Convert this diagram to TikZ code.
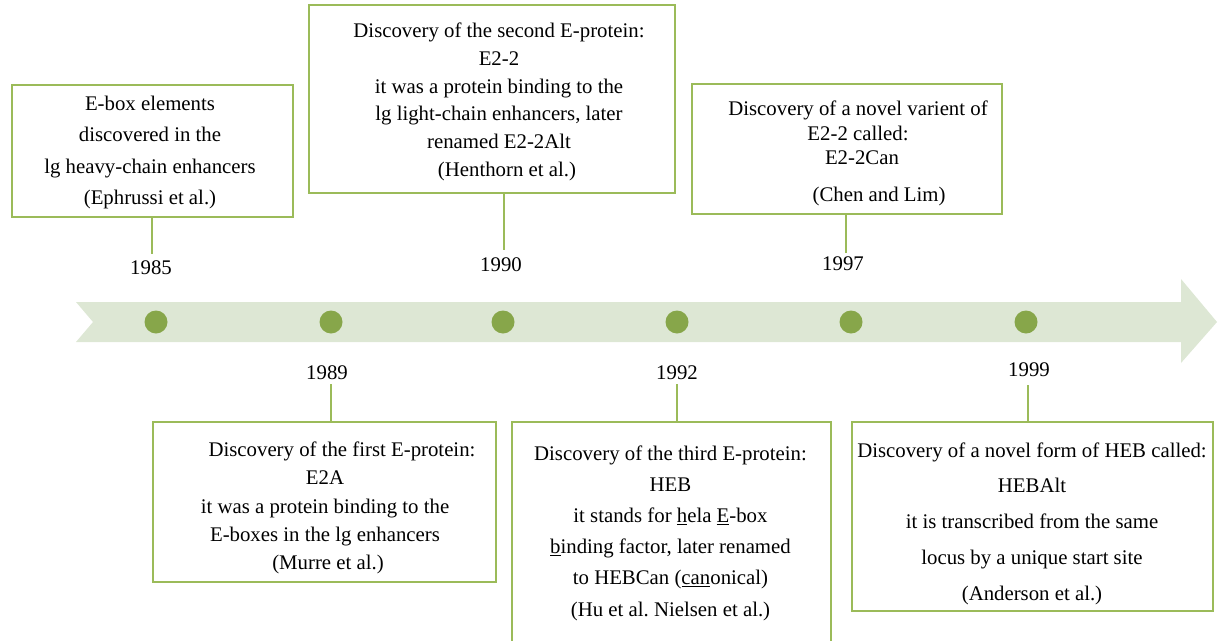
\documentclass[tikz,border=0pt]{standalone}
\usepackage{fontspec}
\setmainfont{Liberation Serif}
\frenchspacing
\definecolor{bandc}{HTML}{DDE7D4}
\definecolor{dotc}{HTML}{87A64A}
\definecolor{framec}{HTML}{9BBB59}
\begin{document}
\begin{tikzpicture}[x=1pt,y=-1pt,
  boxf/.style={draw=framec, line width=1.6pt, rectangle, inner sep=0pt},
  txt/.style={align=center, inner sep=0pt, text=black},
  yr/.style={inner sep=0pt, font=\fontsize{20.8}{24}\selectfont},
  dotn/.style={circle, fill=dotc, draw=none, minimum width=22pt, minimum height=23pt, inner sep=0pt},
  conn/.style={draw=framec, line width=1.6pt}]
\useasboundingbox (0,0) rectangle (1218,640);
% band arrow
\fill[bandc] (76,302) -- (1181,302) -- (1181,279) -- (1217,322) -- (1181,363) -- (1181,342) -- (76,342) -- (93,322) -- cycle;
% dots
\node[dotn] (d1) at (156,322) {};
\node[dotn] (d2) at (331,322) {};
\node[dotn] (d3) at (503,322) {};
\node[dotn] (d4) at (677,322) {};
\node[dotn] (d5) at (851,322) {};
\node[dotn] (d6) at (1026,322) {};
% boxes
\node[boxf, minimum width=281pt, minimum height=132pt] (b85) at (152.5,151) {};
\node[boxf, minimum width=366pt, minimum height=188pt] (b90) at (492,99) {};
\node[boxf, minimum width=310pt, minimum height=130pt] (b97) at (847,149) {};
\node[boxf, minimum width=343pt, minimum height=160pt] (b89) at (324.5,502) {};
\node[boxf, minimum width=319pt, minimum height=222pt] (b92) at (671.5,533) {};
\node[boxf, minimum width=361pt, minimum height=189pt] (b99) at (1032.5,516.5) {};
% texts
\node[txt, font=\fontsize{20.8}{31.5}\selectfont] (t85) at (150,152.5)
  {E-box elements\\discovered in the\\lg heavy-chain enhancers\\(Ephrussi et al.)};
\node[txt, font=\fontsize{20.8}{27.7}\selectfont] (t90) at (499,102)
  {Discovery of the second E-protein:\\E2-2\\it was a protein binding to the\\lg light-chain enhancers, later\\renamed E2-2Alt\\\hspace*{16pt}(Henthorn et al.)};
\node[txt, font=\fontsize{20.8}{24.5}\selectfont] (t97) at (858,153.5)
  {Discovery of a novel varient of\\E2-2 called:\\\hspace*{8pt}E2-2Can\\[12pt]\hspace*{42pt}(Chen and Lim)};
\node[txt, font=\fontsize{20.8}{28.2}\selectfont] (t89) at (325,508)
  {\hspace*{34pt}Discovery of the first E-protein:\\E2A\\it was a protein binding to the\\E-boxes in the lg enhancers\\\hspace*{6pt}(Murre et al.)};
\node[txt, font=\fontsize{20.8}{31.2}\selectfont] (t92) at (670.5,533)
  {Discovery of the third E-protein:\\HEB\\it stands for \underline{h}ela \underline{E}-box\\\underline{b}inding factor, later renamed\\to HEBCan (\underline{can}onical)\\(Hu et al. Nielsen et al.)};
\node[txt, font=\fontsize{20.8}{35.75}\selectfont] (t99) at (1032,523.5)
  {Discovery of a novel form of HEB called:\\HEBAlt\\it is transcribed from the same\\locus by a unique start site\\(Anderson et al.)};
% years
\node[yr] (y85) at (151,268) {1985};
\node[yr] (y90) at (501,265) {1990};
\node[yr] (y97) at (843,264) {1997};
\node[yr] (y89) at (327,373) {1989};
\node[yr] (y92) at (677,373) {1992};
\node[yr] (y99) at (1029,370) {1999};
% connector ends
\coordinate (c85) at (152,254);
\coordinate (c90) at (504,250);
\coordinate (c97) at (846,253);
\coordinate (c89) at (331,384);
\coordinate (c92) at (677,384);
\coordinate (c99) at (1028,385);
\draw[conn] (c85 |- b85.south) -- (c85);
\draw[conn] (c90 |- b90.south) -- (c90);
\draw[conn] (c97 |- b97.south) -- (c97);
\draw[conn] (c89) -- (c89 |- b89.north);
\draw[conn] (c92) -- (c92 |- b92.north);
\draw[conn] (c99) -- (c99 |- b99.north);
\end{tikzpicture}
\end{document}
